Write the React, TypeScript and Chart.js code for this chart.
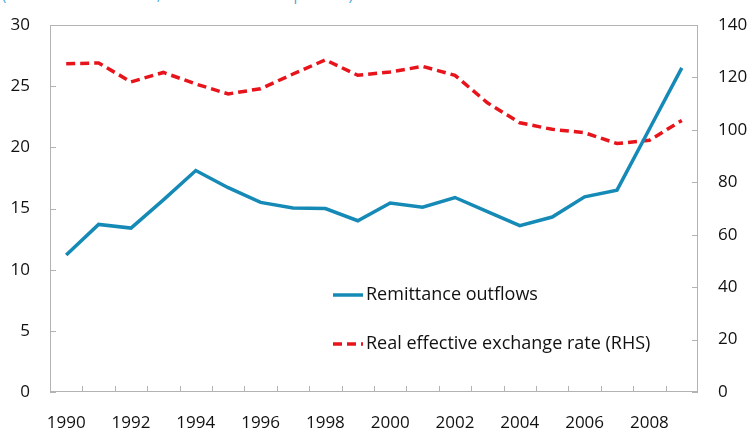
import React, { useEffect, useRef } from "react";
import { Chart, registerables } from "chart.js";

Chart.register(...registerables);

const years = [
  "1990", "1991", "1992", "1993", "1994", "1995", "1996", "1997", "1998", "1999",
  "2000", "2001", "2002", "2003", "2004", "2005", "2006", "2007", "2008", "2009",
];
const remittanceOutflows = [
  11.2, 13.7, 13.4, 15.7, 18.1, 16.7, 15.5, 15.05, 15.0, 14.0,
  15.45, 15.1, 15.9, 14.75, 13.6, 14.3, 15.95, 16.5, 21.5, 26.5,
];
const reer = [
  125.2, 125.5, 118.3, 121.9, 117.5, 113.7, 115.7, 121.3, 126.7, 120.8,
  122.1, 124.2, 120.8, 110.3, 102.7, 100.2, 98.9, 94.8, 96.0, 103.6,
];
const leftAxisRange = [0, 30, 5];
const rightAxisRange = [0, 140, 20];
const seriesNames = ["Remittance outflows", "Real effective exchange rate (RHS)"];
const subtitle = "(Billions of U.S. dollars, unless otherwise specified)";

const BLUE = "#168ab6";
const RED = "#e8141c";
const AXIS = "#b3b3b3";
const FONT = "'Open Sans', 'Noto Sans', sans-serif";

const framePlugin = {
  id: "frameAndTicks",
  afterDatasetsDraw(chart: any) {
    const { ctx, chartArea } = chart;
    const { left, right, top, bottom } = chartArea;
    ctx.save();
    ctx.strokeStyle = AXIS;
    ctx.lineWidth = 1;
    ctx.strokeRect(left + 0.5, top + 0.5, right - left - 1, bottom - top - 1);
    const xs = chart.scales.x;
    const n = xs.ticks.length;
    ctx.beginPath();
    for (let i = 1; i < n; i++) {
      const px = Math.round((xs.getPixelForTick(i - 1) + xs.getPixelForTick(i)) / 2) + 0.5;
      ctx.moveTo(px, bottom);
      ctx.lineTo(px, bottom - 6);
    }
    const ys = chart.scales.y;
    ys.ticks.forEach((t: any) => {
      const py = Math.round(ys.getPixelForValue(t.value)) + 0.5;
      ctx.moveTo(left, py);
      ctx.lineTo(left + 6, py);
    });
    const y1 = chart.scales.y1;
    y1.ticks.forEach((t: any) => {
      const py = Math.round(y1.getPixelForValue(t.value)) + 0.5;
      ctx.moveTo(right, py);
      ctx.lineTo(right - 6, py);
    });
    ctx.stroke();
    ctx.restore();
  },
  afterDraw(chart: any) {
    const { ctx } = chart;
    const items = [
      { y: 295, ds: chart.data.datasets[0] },
      { y: 344, ds: chart.data.datasets[1] },
    ];
    ctx.save();
    ctx.font = `18px ${FONT}`;
    ctx.textBaseline = "middle";
    ctx.fillStyle = "#111";
    items.forEach((it) => {
      ctx.beginPath();
      ctx.strokeStyle = it.ds.borderColor;
      ctx.lineWidth = 3.5;
      ctx.setLineDash(it.ds.borderDash || []);
      ctx.moveTo(333, it.y);
      ctx.lineTo(363, it.y);
      ctx.stroke();
      ctx.setLineDash([]);
      ctx.fillText(it.ds.label, 366, it.y);
    });
    ctx.restore();
  },
};

export default function App() {
  const ref = useRef<HTMLCanvasElement>(null);
  useEffect(() => {
    if (!ref.current) return;
    const tickFont = { family: FONT, size: 17 };
    const chart = new Chart(ref.current, {
      type: "line",
      data: {
        labels: years,
        datasets: [
          {
            label: seriesNames[0],
            data: remittanceOutflows,
            borderColor: BLUE,
            backgroundColor: BLUE,
            borderWidth: 3.5,
            pointRadius: 0,
            tension: 0,
            yAxisID: "y",
          },
          {
            label: seriesNames[1],
            data: reer,
            borderColor: RED,
            backgroundColor: RED,
            borderWidth: 3.5,
            borderDash: [9, 5],
            pointRadius: 0,
            tension: 0,
            yAxisID: "y1",
          },
        ],
      },
      options: {
        animation: false,
        responsive: false,
        layout: { padding: { top: 25, left: 0, right: 0, bottom: 0 } },
        plugins: { legend: { display: false }, tooltip: { enabled: false } },
        scales: {
          x: {
            type: "category",
            offset: true,
            grid: { display: false, drawTicks: false },
            border: { display: false },
            ticks: {
              autoSkip: false,
              maxRotation: 0,
              padding: 21,
              color: "#111",
              font: tickFont,
              callback: (_v: any, i: number) => (i % 2 === 0 ? years[i] : ""),
            },
            afterFit: (s: any) => {
              s.height = 38;
            },
          },
          y: {
            position: "left",
            min: leftAxisRange[0],
            max: leftAxisRange[1],
            grid: { display: false, drawTicks: false },
            border: { display: false },
            ticks: { stepSize: leftAxisRange[2], padding: 20, color: "#111", font: tickFont },
            afterFit: (s: any) => {
              s.width = 50;
              s.paddingTop = 0;
              s.paddingBottom = 0;
            },
          },
          y1: {
            position: "right",
            min: rightAxisRange[0],
            max: rightAxisRange[1],
            grid: { display: false, drawTicks: false },
            border: { display: false },
            ticks: { stepSize: rightAxisRange[2], padding: 20, color: "#111", font: tickFont },
            afterFit: (s: any) => {
              s.width = 52;
              s.paddingTop = 0;
              s.paddingBottom = 0;
            },
          },
        },
      },
      plugins: [framePlugin],
    } as any);
    return () => chart.destroy();
  }, []);
  return (
    <div style={{ position: "absolute", left: 0, top: 0, width: 750, height: 430, overflow: "hidden", background: "#fff" }}>
      <div
        style={{
          position: "absolute",
          left: 2,
          top: -16,
          fontFamily: FONT,
          fontSize: 15,
          color: "#4aaad6",
          whiteSpace: "nowrap",
        }}
      >
        {subtitle}
      </div>
      <canvas ref={ref} width={750} height={430} style={{ position: "absolute", left: 0, top: 0 }} />
    </div>
  );
}
